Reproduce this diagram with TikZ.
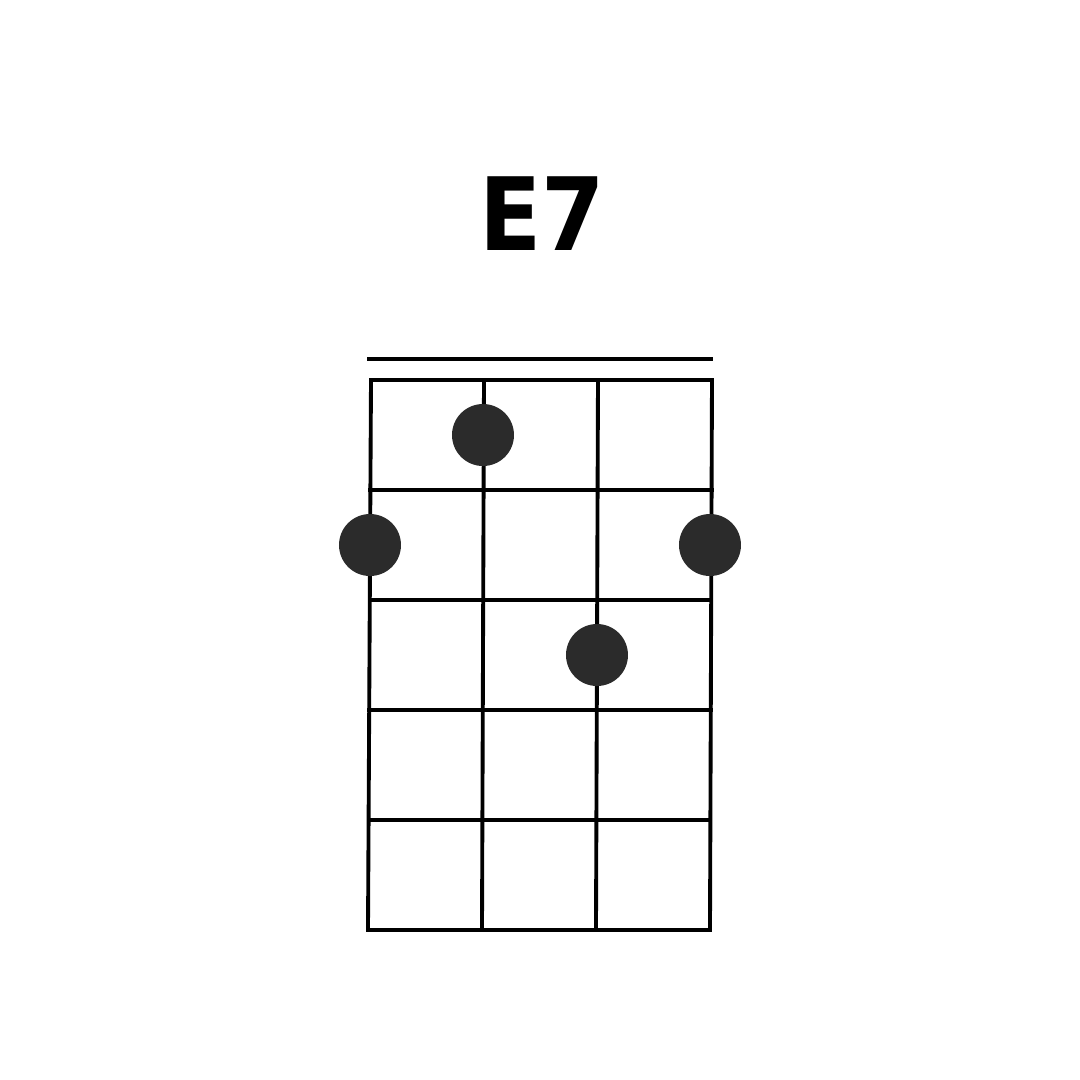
\documentclass[tikz,border=0pt]{standalone}
\usepackage{fontspec}
\setmainfont{DejaVu Sans Condensed}
\usetikzlibrary{positioning,calc}

\begin{document}
\begin{tikzpicture}[x=0.1mm, y=-0.1mm, every node/.style={inner sep=0pt},
    fretline/.style={line width=1.1pt, line cap=rect},
    fingerdot/.style={circle, fill=black!83, minimum size=6.2mm}]
  \useasboundingbox (0,0) rectangle (1080,1080);
  \def\ftop{380} \def\fgap{110}
  \node[font=\fontsize{28.8pt}{30pt}\selectfont\bfseries, anchor=base] (title) at (542,250) {E7};
  \draw[fretline] (369,359) -- (711,359);
  % strings, leaning a little
  \foreach \i/\xt/\xb in {1/371/368, 2/484/482, 3/598/596, 4/712/710} {
    \coordinate (s\i t) at (\xt,\ftop);
    \coordinate (s\i b) at (\xb,930);
    \draw[fretline] (s\i t) -- (s\i b);
  }
  \foreach \k in {0,...,5}
    \draw[fretline] ($(s1t)!\k/5!(s1b)$) -- ($(s4t)!\k/5!(s4b)$);
  \node[fingerdot] (d2) at (483,435) {};
  \node[fingerdot] (d1) at (370,545) {};
  \node[fingerdot] (d4) at (710,545) {};
  \node[fingerdot] (d3) at (597,655) {};
\end{tikzpicture}
\end{document}
